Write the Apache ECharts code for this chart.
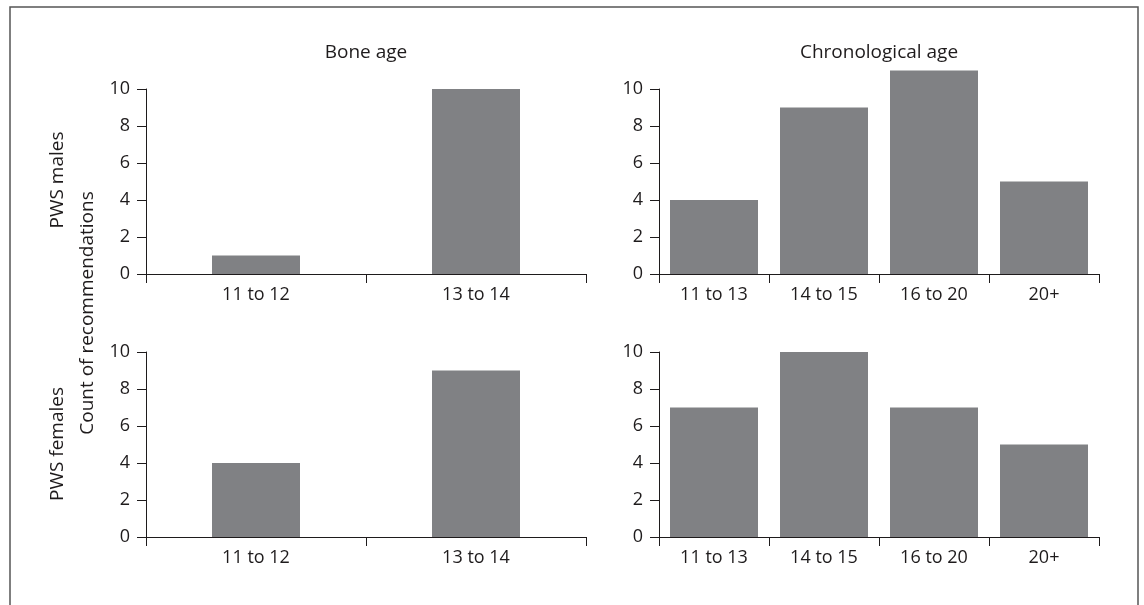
<!DOCTYPE html>
<html>
<head>
<meta charset="utf-8">
<script src="https://cdn.jsdelivr.net/npm/echarts@6/dist/echarts.min.js"></script>
<style>
html,body{margin:0;padding:0;background:#fff;}
#chart{width:1144px;height:605px;}
</style>
</head>
<body>
<div id="chart"></div>
<script>
const boneCategories = ['11 to 12', '13 to 14'];
const chronoCategories = ['11 to 13', '14 to 15', '16 to 20', '20+'];
const boneMales = [1, 10];
const chronoMales = [4, 9, 11, 5];
const boneFemales = [4, 9];
const chronoFemales = [7, 10, 7, 5];
const yTicks = [0, 2, 4, 6, 8, 10];
const columnTitles = ['Bone age', 'Chronological age'];
const rowTitles = ['PWS males', 'PWS females'];
const yAxisTitle = 'Count of recommendations';

const FONT = '"Open Sans", sans-serif';
const TXT = '#1e1b1c';
const BAR = '#808184';
const AX = '#1e1b1c';

const grids = [
  {left: 146, top: 89, width: 440, height: 185},
  {left: 659, top: 89, width: 440, height: 185},
  {left: 146, top: 352, width: 440, height: 185},
  {left: 659, top: 352, width: 440, height: 185}
];
const cats = [boneCategories, chronoCategories, boneCategories, chronoCategories];
const vals = [boneMales, chronoMales, boneFemales, chronoFemales];
const widths = ['40%', '80%', '40%', '80%'];

const chart = echarts.init(document.getElementById('chart'));
const option = {
  animation: false,
  backgroundColor: '#fff',
  grid: grids.map(g => Object.assign({containLabel: false}, g)),
  xAxis: cats.map((c, i) => ({
    type: 'category', gridIndex: i, data: c, boundaryGap: true,
    axisLine: {show: true, lineStyle: {color: AX, width: 1}},
    axisTick: {show: true, length: 9, alignWithLabel: false, lineStyle: {color: AX}},
    axisLabel: {color: TXT, fontFamily: FONT, fontSize: 18, margin: 12},
    splitLine: {show: false}
  })),
  yAxis: cats.map((c, i) => ({
    type: 'value', gridIndex: i, min: yTicks[0], max: yTicks[yTicks.length - 1], interval: 2,
    axisLine: {show: true, lineStyle: {color: AX, width: 1}},
    axisTick: {show: true, length: 9, lineStyle: {color: AX}},
    axisLabel: {color: TXT, fontFamily: FONT, fontSize: 18, margin: 16},
    splitLine: {show: false}
  })),
  series: vals.map((v, i) => ({
    type: 'bar', xAxisIndex: i, yAxisIndex: i, data: v,
    barWidth: widths[i], clip: false,
    itemStyle: {color: BAR}
  })),
  graphic: [
    {type: 'rect', shape: {x: 10, y: 7, width: 1128, height: 700}, style: {fill: 'none', stroke: '#555', lineWidth: 1.5}, silent: true},
    {type: 'text', x: 366, y: 53, style: {text: columnTitles[0], font: '19px ' + FONT, fill: TXT, textAlign: 'center', textVerticalAlign: 'middle'}},
    {type: 'text', x: 879, y: 53, style: {text: columnTitles[1], font: '19px ' + FONT, fill: TXT, textAlign: 'center', textVerticalAlign: 'middle'}},
    {type: 'text', x: 58, y: 180, rotation: Math.PI / 2, style: {text: rowTitles[0], font: '19px ' + FONT, fill: TXT, textAlign: 'center', textVerticalAlign: 'middle'}},
    {type: 'text', x: 58, y: 444, rotation: Math.PI / 2, style: {text: rowTitles[1], font: '19px ' + FONT, fill: TXT, textAlign: 'center', textVerticalAlign: 'middle'}},
    {type: 'text', x: 88, y: 313, rotation: Math.PI / 2, style: {text: yAxisTitle, font: '19px ' + FONT, fill: TXT, textAlign: 'center', textVerticalAlign: 'middle'}}
  ]
};
chart.setOption(option);
</script>
</body>
</html>
